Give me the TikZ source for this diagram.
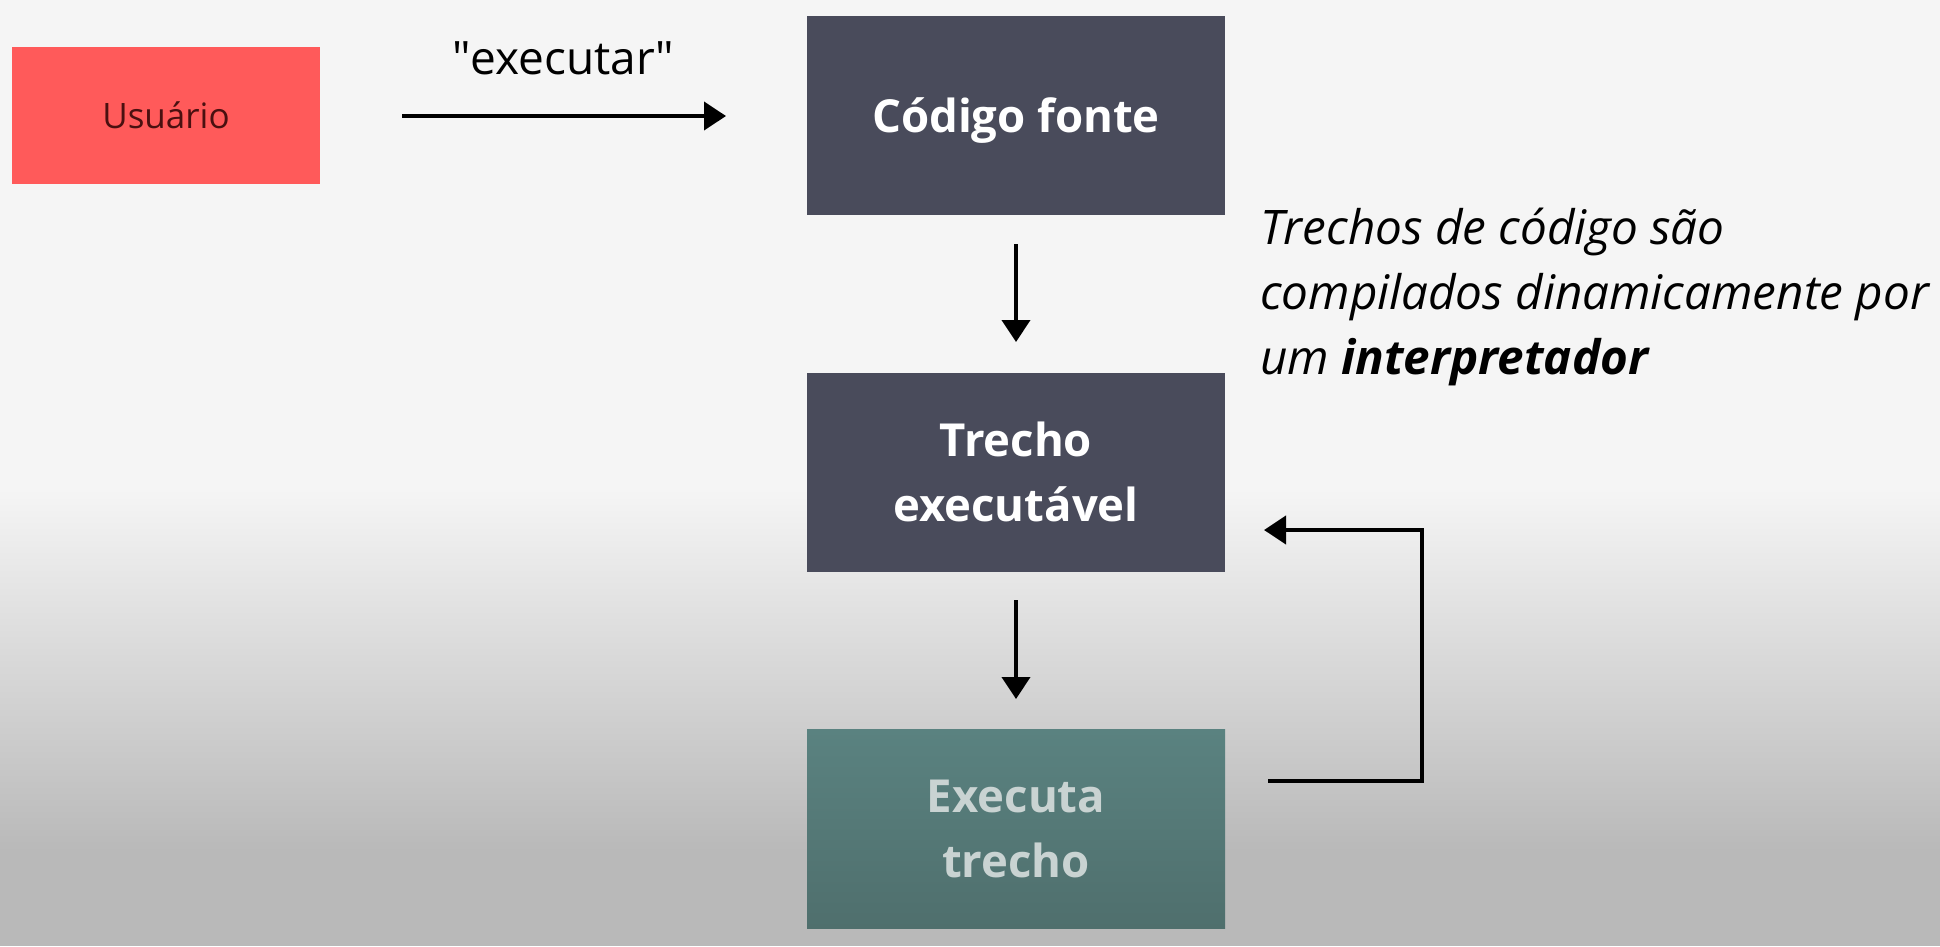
\documentclass[tikz,border=0pt]{standalone}
\usepackage{fontspec}
\setmainfont{Open Sans}
\usetikzlibrary{arrows.meta}
\definecolor{bgtop}{HTML}{F5F5F5}
\definecolor{bgbot}{HTML}{B9B9B9}
\definecolor{userred}{HTML}{FF5A5A}
\definecolor{usertext}{HTML}{4A1010}
\definecolor{darkbox}{HTML}{494B5B}
\definecolor{tealtop}{HTML}{5A8280}
\definecolor{tealbot}{HTML}{4F6F6D}
\definecolor{tealtext}{HTML}{C9D3D2}
\tikzset{
  box/.style={rectangle, inner sep=0pt, minimum width=418pt, minimum height=199pt, align=center, font=\fontsize{45.5}{65.5}\selectfont\bfseries, text=white},
  conn/.style={draw=black, line width=4pt, -{Triangle[length=22pt,width=28pt]}},
}
\begin{document}
\begin{tikzpicture}[x=1pt,y=-1pt]
\useasboundingbox (0,0) rectangle (1940,946);
\fill[bgtop] (0,0) rectangle (1940,490);
\shade[top color=bgtop, bottom color=bgbot] (0,489) rectangle (1940,851);
\fill[bgbot] (0,850) rectangle (1940,946);

\node[rectangle, fill=userred, minimum width=308pt, minimum height=137pt, inner sep=0pt, text=usertext, font=\fontsize{35}{40}\selectfont] (user) at (166,115.5) {Usuário};
\node[rectangle, fill=darkbox, minimum width=418pt, minimum height=199pt] (codigo) at (1016,115) {};
\node[box] (codigoTxt) at (1016,121) {Código fonte};
\node[box, fill=darkbox] (trecho) at (1016,472) {Trecho\\executável};
\node[box, top color=tealtop, bottom color=tealbot, text=tealtext] (exec) at (1016,829) {Executa\\trecho};

\coordinate (a1s) at (402,116);
\coordinate (a1e) at (726,116);
\draw[conn] (a1s) -- (a1e);
\node[font=\fontsize{46}{50}\selectfont, text=black] (lbl) at (563,58) {\textquotedbl executar\textquotedbl};

\coordinate (d1s) at (1016,244);
\coordinate (d1e) at (1016,342);
\coordinate (d2s) at (1016,600);
\coordinate (d2e) at (1016,699);
\draw[conn] (d1s) -- (d1e);
\draw[conn] (d2s) -- (d2e);

\coordinate (l1) at (1268,781);
\coordinate (l2) at (1422,781);
\coordinate (l3) at (1422,530);
\coordinate (l4) at (1264,530);
\draw[conn] (l1) -- (l2) -- (l3) -- (l4);

\node[anchor=west, align=left, inner sep=0pt, font=\fontsize{47.6}{65}\selectfont\itshape, text=black] (note) at (1260,297) {Trechos de código são\\compilados dinamicamente por\\um \textbf{\itshape interpretador}};
\end{tikzpicture}
\end{document}
